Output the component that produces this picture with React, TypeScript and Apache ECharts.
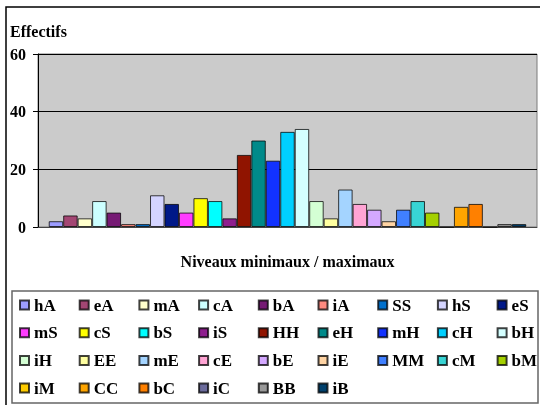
import React, { useEffect, useRef } from "react";
import * as echarts from "echarts";

const seriesNames = ["hA","eA","mA","cA","bA","iA","SS","hS","eS","mS","cS","bS","iS","HH","eH","mH","cH","bH","iH","EE","mE","cE","bE","iE","MM","cM","bM","iM","CC","bC","iC","BB","iB"];
const values = [2,4,3,9,5,1,1,11,8,5,10,9,3,25,30,23,33,34,9,3,13,8,6,2,6,9,5,0,7,8,0,1,1];
const colors = ["#9C9CFF","#A34673","#FFFFCC","#CCFFFF","#761A74","#FF8A80","#0070CC","#D4D4FF","#001888","#FF3CFF","#FFFF00","#00FFFF","#8E1E8E","#901400","#008A8A","#1232FF","#00D0FF","#D4FFFF","#D4FFD4","#FFFFA0","#A4D4FF","#FFA4D4","#D4A8FF","#FFD4A4","#4080FF","#38D4D4","#A4D000","#FFCC00","#FFA500","#FF8000","#6B6B9B","#999999","#00406C"];
const categories = [""];
const yTicks = { min: 0, max: 60, interval: 20 };
const FONT = "'Liberation Serif', 'Times New Roman', serif";

export default function App() {
  const ref = useRef<HTMLDivElement>(null);
  useEffect(() => {
    if (!ref.current) return;
    const chart = echarts.init(ref.current, null, { renderer: "svg" });
    chart.setOption({
      animation: false,
      textStyle: { fontFamily: FONT },
      title: {
        text: "Effectifs",
        left: 10,
        top: 23,
        padding: 0,
        textStyle: { fontFamily: FONT, fontWeight: "bold", fontSize: 16, color: "#000" },
      },
      grid: {
        left: 38,
        right: 3,
        top: 54,
        bottom: 178,
        show: true,
        backgroundColor: "#CBCBCB",
        borderColor: "#7A7A7A",
        borderWidth: 1,
      },
      xAxis: {
        type: "category",
        data: categories,
        axisLine: { show: true, lineStyle: { color: "#444", width: 1 } },
        axisTick: { show: false },
        axisLabel: { show: false },
        name: "Niveaux minimaux / maximaux",
        nameLocation: "middle",
        nameGap: 26,
        nameTextStyle: { fontFamily: FONT, fontWeight: "bold", fontSize: 16, color: "#000" },
      },
      yAxis: {
        type: "value",
        min: yTicks.min,
        max: yTicks.max,
        interval: yTicks.interval,
        axisLine: { show: true, lineStyle: { color: "#000", width: 1 } },
        axisTick: { show: true, length: 5, lineStyle: { color: "#000" } },
        axisLabel: { margin: 12, fontFamily: FONT, fontWeight: "bold", fontSize: 16, color: "#000" },
        splitLine: { show: true, lineStyle: { color: "#000", width: 1 } },
      },
      legend: {
        left: 19,
        top: 296,
        width: 535,
        padding: 0,
        itemWidth: 9,
        itemHeight: 9,
        itemGap: 9.7,
        icon: "rect",
        textStyle: {
          fontFamily: FONT,
          fontWeight: "bold",
          fontSize: 17,
          color: "#000",
          width: 35,
          lineHeight: 18,
          padding: 0,
        },
        data: seriesNames,
      },
      series: seriesNames.map((name, i) => ({
        name,
        type: "bar",
        data: [values[i]],
        barGap: "0%",
        barCategoryGap: "4.3%",
        itemStyle: { color: colors[i], borderColor: "rgba(0,0,0,0.75)", borderWidth: 1 },
      })),
      graphic: [
        {
          type: "rect",
          shape: { x: 6, y: 7, width: 600, height: 600 },
          style: { fill: "none", stroke: "#000", lineWidth: 1.5 },
          silent: true,
        },
        {
          type: "rect",
          shape: { x: 12, y: 291, width: 526, height: 112 },
          style: { fill: "none", stroke: "#666", lineWidth: 1.5 },
          silent: true,
        },
      ],
    });
    return () => chart.dispose();
  }, []);
  return <div ref={ref} style={{ position: "fixed", left: 0, top: 0, width: 540, height: 405 }} />;
}
